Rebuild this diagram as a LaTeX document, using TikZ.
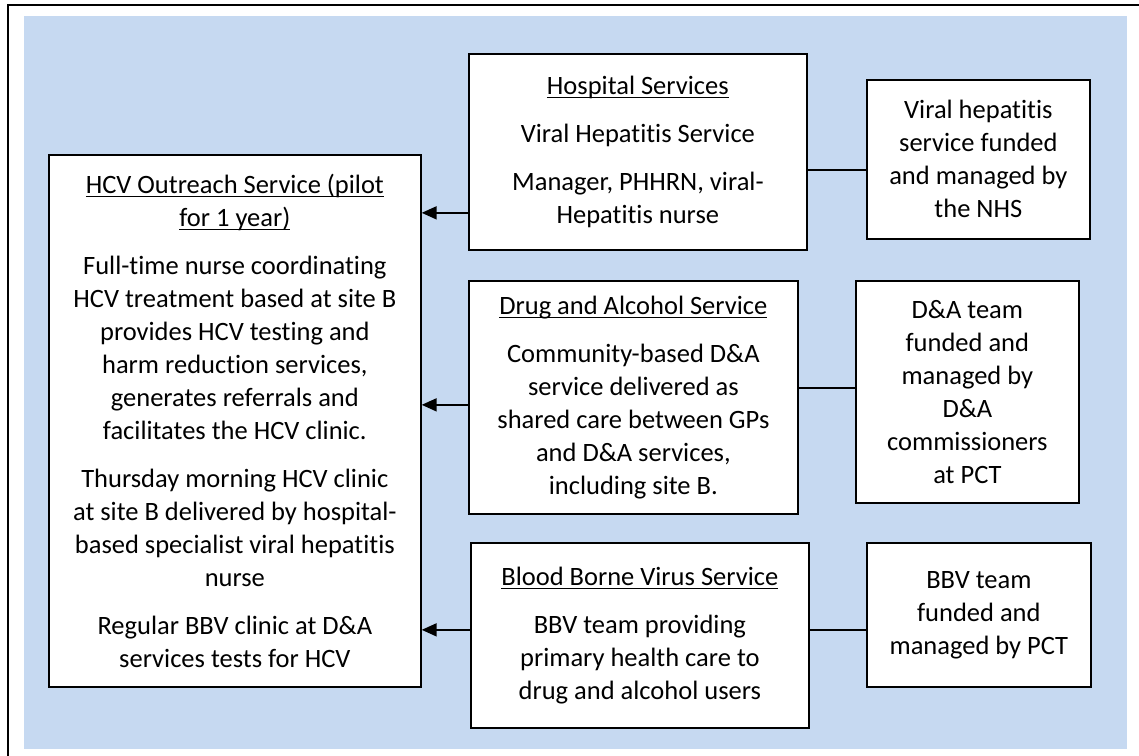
\documentclass[tikz,border=0pt]{standalone}
\usepackage{fontspec}
\setmainfont{Carlito}[Ligatures=NoCommon]
\usetikzlibrary{arrows.meta,positioning}
\definecolor{panelblue}{HTML}{C6D9F1}
\newcommand{\svchead}[1]{\setbox0\hbox{#1}\rlap{\rule[-4pt]{\wd0}{1.5pt}}\box0}
\tikzset{svcbox/.style={draw,line width=1.7pt,fill=white,align=center,inner sep=0pt,anchor=north west,font=\fontsize{26.5pt}{33pt}\selectfont}}
\tikzset{link/.style={draw,line width=1.6pt}}
\tikzset{feed/.style={draw,line width=1.9pt,-{Triangle[length=15pt,width=13pt]}}}

\begin{document}
\begin{tikzpicture}[x=1pt,y=-1pt]
    \useasboundingbox (0,0) rectangle (1139,755);
    \clip (0,0) rectangle (1139,755);
    \draw[line width=1.7pt] (8,5) rectangle (1160,775);
    \fill[panelblue] (24,16) rectangle (1127,749);

    \node[svcbox,minimum width=372pt,minimum height=532pt] (hcv) at (48,154)
        {\svchead{HCV Outreach Service (pilot}\\ \svchead{for 1 year)}\\[15pt]
         Full-time nurse coordinating\\ HCV treatment based at site B\\ provides HCV testing and\\
         harm reduction services,\\ generates referrals and\\ facilitates the HCV clinic.\\[15pt]
         Thursday morning HCV clinic\\ at site B delivered by hospital-\\ based specialist viral hepatitis\\ nurse\\[15pt]
         Regular BBV clinic at D\&A\\ services tests for HCV};

    \node[svcbox,minimum width=338pt,minimum height=196pt] (hosp) at (468,53)
        {\svchead{Hospital Services}\\[15pt] Viral Hepatitis Service\\[15pt] Manager, PHHRN, viral-\\ Hepatitis nurse};
    \node[svcbox,minimum width=223pt,minimum height=159pt] (nhs) at (866,79)
        {Viral hepatitis\\ service funded\\ and managed by\\ the NHS};

    \node[svcbox,minimum width=329pt,minimum height=233pt] (da) at (468,280)
        {\svchead{Drug and Alcohol Service}\\[15pt] Community-based D\&A\\ service delivered as\\ shared care between GPs\\ and D\&A services,\\ including site B.};
    \node[svcbox,minimum width=223pt,minimum height=222pt] (dafund) at (855,280)
        {D\&A team\\ funded and\\ managed by\\ D\&A\\ commissioners\\ at PCT};

    \node[svcbox,minimum width=338pt,minimum height=185pt] (bbv) at (470,542)
        {\svchead{Blood Borne Virus Service}\\[15pt] BBV team providing\\ primary health care to\\ drug and alcohol users};
    \node[svcbox,minimum width=224pt,minimum height=144pt] (bbvfund) at (866,542)
        {BBV team\\ funded and\\ managed by PCT};

        \path[feed] ([yshift=-61pt]hosp.west) -- ([yshift=-61pt]hosp.west -| hcv.east);
        \path[feed] ([yshift=-7.5pt]da.west) -- ([yshift=-7.5pt]da.west -| hcv.east);
        \path[feed] ([yshift=5.5pt]bbv.west) -- ([yshift=5.5pt]bbv.west -| hcv.east);
        \path[link] ([yshift=-18pt]hosp.east) -- ([yshift=-18pt]hosp.east -| nhs.west);
        \path[link] ([yshift=9.5pt]da.east) -- ([yshift=9.5pt]da.east -| dafund.west);
        \path[link] ([yshift=5.5pt]bbv.east) -- ([yshift=5.5pt]bbv.east -| bbvfund.west);
\end{tikzpicture}
\end{document}
